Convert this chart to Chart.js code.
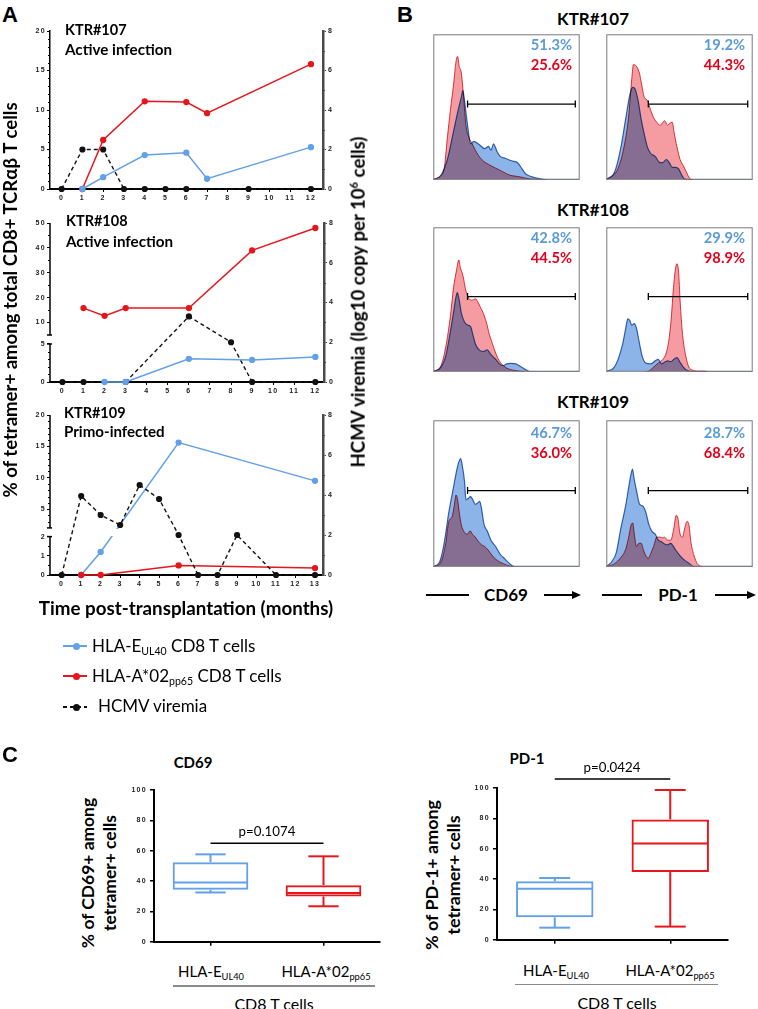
<!DOCTYPE html>
<html>
<head>
<meta charset="utf-8">
<title>Tetramer+ CD8 T cells, HCMV viremia, CD69 and PD-1</title>
<script src="https://cdn.jsdelivr.net/npm/chart.js@4.4.1/dist/chart.umd.min.js"></script>
<style>
  body { margin: 0; background: #fff; }
  #page { position: relative; width: 758px; height: 1009px; overflow: hidden; background: #fff;
          font-family: Lato, "Liberation Sans", sans-serif; color: #000; }
  .abs { position: absolute; white-space: nowrap; line-height: 1; }
  .b { font-weight: bold; }
  .ctr { transform: translateX(-50%); }
  .rot { transform: translate(-50%, -50%) rotate(-90deg); text-align: center; }
  .letter { font: bold 22px "Liberation Sans", Arial, sans-serif; }
  sub { font-size: 0.62em; vertical-align: -0.3em; line-height: 0; }
  sup { font-size: 0.6em; vertical-align: 0.65em; line-height: 0; }
  .blue { color: #5b9bd5; }
  .red { color: #e3001b; }
</style>
</head>
<body>
<div id="page">
  <div id="charts"></div>

  <!-- panel A text -->
  <div class="abs letter" style="left:2px;top:2px">A</div>
  <div class="abs b" style="left:65px;top:22.5px;font-size:14.5px">KTR#107</div>
  <div class="abs b" style="left:65px;top:41.5px;font-size:14.5px" data-fit="107">Active infection</div>
  <div class="abs b" style="left:66px;top:214px;font-size:14.5px">KTR#108</div>
  <div class="abs b" style="left:66px;top:233.5px;font-size:14.5px" data-fit="107">Active infection</div>
  <div class="abs b" style="left:64px;top:405.5px;font-size:14.5px">KTR#109</div>
  <div class="abs b" style="left:64px;top:424px;font-size:14.5px" data-fit="101">Primo-infected</div>
  <div class="abs b rot" style="left:10px;top:300px;font-size:17px" data-fit="395">% of tetramer+ among total CD8+ TCRαβ T cells</div>
  <div class="abs b rot" style="left:358px;top:302px;font-size:17px" data-fit="331">HCMV viremia (log10 copy per 10<sup>6</sup> cells)</div>
  <div class="abs b ctr" style="left:186px;top:598.5px;font-size:18px" data-fit="294">Time post-transplantation (months)</div>

  <!-- legend -->
  <div class="abs" style="left:63px;top:645px;width:24px;height:2px;background:#62a0e8"></div>
  <div class="abs" style="left:72.5px;top:642.5px;width:7px;height:7px;border-radius:50%;background:#62a0e8"></div>
  <div class="abs" style="left:92px;top:636.5px;font-size:17px">HLA-E<sub>UL40</sub> CD8 T cells</div>
  <div class="abs" style="left:63px;top:675px;width:24px;height:2px;background:#e5161c"></div>
  <div class="abs" style="left:72.5px;top:672.5px;width:7px;height:7px;border-radius:50%;background:#e5161c"></div>
  <div class="abs" style="left:92px;top:666.5px;font-size:17px">HLA-A*02<sub>pp65</sub> CD8 T cells</div>
  <div class="abs" style="left:63px;top:706px;width:24px;height:2px;background:repeating-linear-gradient(90deg,#111 0 4px,transparent 4px 7px)"></div>
  <div class="abs" style="left:72.5px;top:703.5px;width:7px;height:7px;border-radius:50%;background:#111"></div>
  <div class="abs" style="left:98px;top:697px;font-size:17px">HCMV viremia</div>

  <!-- panel B text -->
  <div class="abs letter" style="left:397px;top:2px">B</div>
  <div class="abs b ctr" style="left:593px;top:10.5px;font-size:16px" data-fit="72">KTR#107</div>
  <div class="abs b ctr" style="left:593px;top:201.5px;font-size:16px" data-fit="72">KTR#108</div>
  <div class="abs b ctr" style="left:593px;top:394px;font-size:16px" data-fit="72">KTR#109</div>

  <div class="abs b blue" style="right:186px;top:37px;font-size:14px" data-fit="41">51.3%</div>
  <div class="abs b red"  style="right:186px;top:57px;font-size:14px" data-fit="41">25.6%</div>
  <div class="abs b blue" style="right:13px;top:37px;font-size:14px" data-fit="41">19.2%</div>
  <div class="abs b red"  style="right:13px;top:57px;font-size:14px" data-fit="41">44.3%</div>
  <div class="abs b blue" style="right:186px;top:230px;font-size:14px" data-fit="41">42.8%</div>
  <div class="abs b red"  style="right:186px;top:250px;font-size:14px" data-fit="41">44.5%</div>
  <div class="abs b blue" style="right:13px;top:230px;font-size:14px" data-fit="41">29.9%</div>
  <div class="abs b red"  style="right:13px;top:250px;font-size:14px" data-fit="41">98.9%</div>
  <div class="abs b blue" style="right:186px;top:425px;font-size:14px" data-fit="41">46.7%</div>
  <div class="abs b red"  style="right:186px;top:445px;font-size:14px" data-fit="41">36.0%</div>
  <div class="abs b blue" style="right:13px;top:425px;font-size:14px" data-fit="41">28.7%</div>
  <div class="abs b red"  style="right:13px;top:445px;font-size:14px" data-fit="41">68.4%</div>

  <div class="abs" style="left:426px;top:594px;width:43px;height:1.5px;background:#000"></div>
  <div class="abs b ctr" style="left:506px;top:586px;font-size:17px">CD69</div>
  <div class="abs" style="left:544px;top:594px;width:30px;height:1.5px;background:#000"></div>
  <div class="abs" style="left:572px;top:590.7px;border-left:9px solid #000;border-top:4px solid transparent;border-bottom:4px solid transparent"></div>
  <div class="abs" style="left:602px;top:594px;width:40px;height:1.5px;background:#000"></div>
  <div class="abs b ctr" style="left:678px;top:586px;font-size:17px">PD-1</div>
  <div class="abs" style="left:715px;top:594px;width:34px;height:1.5px;background:#000"></div>
  <div class="abs" style="left:747px;top:590.7px;border-left:9px solid #000;border-top:4px solid transparent;border-bottom:4px solid transparent"></div>

  <!-- panel C text -->
  <div class="abs letter" style="left:2px;top:742px">C</div>
  <div class="abs b ctr" style="left:193px;top:754.5px;font-size:15px">CD69</div>
  <div class="abs b ctr" style="left:527px;top:750.5px;font-size:15px">PD-1</div>
  <div class="abs b rot" style="left:99px;top:873px;font-size:16.5px;line-height:22px" data-fit="150">% of CD69+ among<br>tetramer+ cells</div>
  <div class="abs b rot" style="left:442px;top:875px;font-size:16.5px;line-height:22px" data-fit="150">% of PD-1+ among<br>tetramer+ cells</div>
  <div class="abs ctr" style="left:267px;top:825px;font-size:14px" data-fit="57">p=0.1074</div>
  <div class="abs ctr" style="left:612px;top:761px;font-size:14px" data-fit="57">p=0.0424</div>

  <div class="abs ctr" style="left:211px;top:963.5px;font-size:15px">HLA-E<sub>UL40</sub></div>
  <div class="abs ctr" style="left:326px;top:963.5px;font-size:15px">HLA-A*02<sub>pp65</sub></div>
  <div class="abs" style="left:173px;top:985px;width:202px;height:1.5px;background:#8a8a8a"></div>
  <div class="abs ctr" style="left:274px;top:995.5px;font-size:16px">CD8 T cells</div>

  <div class="abs ctr" style="left:556px;top:962.5px;font-size:15px">HLA-E<sub>UL40</sub></div>
  <div class="abs ctr" style="left:670px;top:962.5px;font-size:15px">HLA-A*02<sub>pp65</sub></div>
  <div class="abs" style="left:515px;top:983.5px;width:203px;height:1.5px;background:#8a8a8a"></div>
  <div class="abs ctr" style="left:617px;top:995px;font-size:16px">CD8 T cells</div>
</div>

<script>
// ---------- Panel A: tetramer+ frequencies (left axis) and viremia (right axis) ----------
const viremiaTicks = [0, 2, 4, 6, 8];
const viremiaMinor = [1, 3, 5, 7];

const ticks107x = [0, 1, 2, 3, 4, 5, 6, 7, 8, 9, 10, 11, 12];
const ticks107y = [0, 5, 10, 15, 20];
const minor107y = [1, 2, 3, 4, 6, 7, 8, 9, 11, 12, 13, 14, 16, 17, 18, 19];
const months107 = [1, 2, 4, 6, 7, 12];
const hlaE107 = [0, 1.5, 4.3, 4.6, 1.3, 5.3];
const hlaA107 = [0, 6.2, 11.1, 11.0, 9.6, 15.8];
const virMonths107 = [0, 1, 2, 3, 4, 5, 6, 9, 12];
const viremia107 = [0, 2, 2, 0, 0, 0, 0, 0, 0];

const ticks108x = [0, 1, 2, 3, 4, 5, 6, 7, 8, 9, 10, 11, 12];
const ticks108y = [0, 5, 10, 20, 30, 40, 50];
const minor108y = [1, 2, 3, 4, 15, 25, 35, 45];
const monthsE108 = [2, 3, 6, 9, 12];
const hlaE108 = [0, 0, 3.05, 2.9, 3.3];
const monthsA108 = [1, 2, 3, 6, 9, 12];
const hlaA108 = [15.8, 12.7, 15.8, 15.8, 39, 48];
const virMonths108 = [0, 1, 3, 6, 8, 9, 12];
const viremia108 = [0, 0, 0, 3.3, 2.0, 0, 0];

const ticks109x = [0, 1, 2, 3, 4, 5, 6, 7, 8, 9, 10, 11, 12, 13];
const ticks109y = [0, 1, 2, 5, 10, 15, 20];
const minor109y = [0.5, 1.5, 3, 4, 6, 7, 8, 9, 11, 12, 13, 14, 16, 17, 18, 19];
const months109 = [1, 2, 6, 13];
const hlaE109 = [0, 1.2, 15.6, 9.5];
const hlaA109 = [0, 0, 0.5, 0.36];
const virMonths109 = [0, 1, 2, 3, 4, 5, 6, 7, 8, 9, 11, 13];
const viremia109 = [0, 3.95, 3.0, 2.5, 4.5, 3.8, 2.0, 0, 0, 2.0, 0, 0];

// ---------- Panel B: histograms, [fluorescence position %, count % of frame] ----------
const cd69_107_blue = [[0,0],[1.1,0.4],[5.3,3.2],[9.6,13.9],[13.8,33.1],[17,48.1],[19.1,56.6],[20.2,61.3],[21.3,54.5],[23.4,37.4],[25.5,24.6],[27.7,26.3],[30.9,24.6],[35.1,21.4],[37.7,22.9],[39.4,20.3],[41.1,24.6],[43.6,19.2],[45.7,16],[48.3,15],[51.1,13.9],[54.3,12.8],[57.4,11.8],[60.6,7.5],[62.8,4.3],[67,2.1],[73.4,0.6],[77.7,0],[100,0]];
const cd69_107_red = [[0,0],[0.6,0.4],[4.3,2.1],[7.4,7.5],[9.6,28.8],[11.7,48.1],[13.8,65.2],[15.5,81.2],[16.6,84.8],[17.7,78],[19.1,73.7],[20.2,63],[22.3,37.4],[24.5,28.8],[26.6,24.6],[28.7,20.3],[33,13.9],[39.4,9.6],[45.7,6.4],[52.1,3.2],[58.5,2.1],[67,0.4],[77.7,0]];
const pd1_107_blue = [[0,0],[0.4,0.4],[5.7,5.3],[10,22.4],[13.2,41.7],[16.4,59.8],[18.1,63.5],[19.6,62.6],[21.7,54.5],[23.8,41.7],[26,31],[28.1,22.4],[30.2,18.2],[33.4,16],[36.6,11.8],[38.7,11.8],[40.9,13.9],[43,11.8],[45.1,8.5],[47.2,8.5],[49.4,7.5],[51.5,3.2],[53.6,0.4],[56.8,0],[100,0]];
const pd1_107_red = [[0,0],[0.4,0.4],[3.6,2.1],[7.9,7.5],[12.1,22.4],[15.3,43.8],[17.4,69.4],[18.5,79.1],[20.6,78],[22.8,72.6],[23.8,67.3],[26,56.6],[28.1,54.5],[30.2,48.1],[32.3,42.7],[34.5,39.5],[36.6,37.4],[38.7,39.5],[39.8,40.6],[41.9,37.4],[43,38.5],[45.1,39.5],[46.2,33.1],[48.3,22.4],[50.4,13.9],[52.6,9.6],[54.7,5.3],[56.8,1.1],[58.9,0]];

const cd69_108_blue = [[0,0],[1.1,0.4],[5.3,3.2],[8.5,10.8],[11.7,28],[13.8,40.9],[15.5,51.6],[16.4,54.8],[17.7,49.5],[19.1,40.9],[21.3,34.4],[23.4,32.3],[25.5,31.2],[27,25.8],[28.7,19.4],[31.3,15.1],[34,14],[36.8,15.1],[39.4,11.8],[42.6,8.6],[45.7,4.9],[47.9,4.3],[50,5.4],[53.2,5.8],[56.4,5.4],[58.5,4.3],[61.7,2.2],[64.9,0.4],[66,0],[100,0]];
const cd69_108_red = [[0,0],[0.6,0.4],[5.3,4.3],[8.5,17.2],[11.7,38.7],[13.8,58.1],[16,71],[17.4,77.4],[18.5,72],[20.2,66.7],[22.3,55.9],[24.5,50.5],[26.6,49.5],[28.7,50.5],[30.4,48.4],[31.9,45.2],[34,40.9],[36.2,34.4],[38.3,25.8],[40.4,19.4],[42.6,12.9],[45.7,6.5],[50,2.6],[54.3,1.1],[62.8,0]];
const pd1_108_blue = [[0,0],[0.4,0.4],[4.7,2.2],[7.9,8.2],[11.1,18.9],[13.2,29.7],[14.7,36.6],[16,35.5],[17.4,32.3],[19.1,33.3],[20.6,30.1],[22.3,21.5],[24.5,10.8],[27,6],[30.2,5.4],[33.4,7.5],[35.5,8.6],[37.7,5.4],[39.8,6.5],[41.9,7.5],[44,6.9],[46.2,8.6],[48.3,9.7],[50.4,6.5],[52.6,3.2],[54.7,1.1],[56.8,0.4],[58,0],[100,0]];
const pd1_108_red = [[27,0],[29.1,0.4],[32.3,3.2],[35.5,6],[38.7,8.6],[40.9,12.9],[43,23.7],[44.5,38.7],[45.7,55.9],[47.2,71],[48.3,74.8],[49.4,68.8],[50.4,49.5],[52.1,25.8],[54.3,10.8],[56.4,3.2],[58.9,1.1],[63.2,0.4],[67.4,0.4],[69,0]];

const cd69_109_blue = [[0,0],[0.6,0.4],[4.3,3.2],[7.4,16],[10.6,37.2],[13.8,54.3],[16,66],[17.7,72.3],[18.7,73.8],[19.8,69.1],[21.3,58.5],[22.3,45.7],[24,46.8],[25.5,47.9],[27,45.7],[28.7,42.6],[30.4,43.6],[31.7,44.7],[33,39.4],[34.7,28.7],[36.8,24.5],[39.4,18.1],[42.6,13.8],[45.7,8.5],[48.9,5.3],[52.1,2.1],[54.3,0.4],[56.4,0],[100,0]];
const cd69_109_red = [[0,0],[1.1,0.4],[5.3,3.2],[8.5,16],[10.6,30.9],[12.8,34],[14.3,41.5],[15.5,48.9],[16.6,45.7],[17.7,37.2],[19.1,28.7],[21.3,23.4],[23.4,22.3],[25.1,24.5],[26.6,22.3],[28.7,20.2],[30.9,17],[33,14.9],[35.1,13.8],[37.2,11.7],[40.4,7.4],[43.6,4.3],[47.9,2.1],[52.1,0.4],[55.3,0]];
const pd1_109_blue = [[0,0],[0.4,0.4],[3.6,3.2],[6.8,9.6],[10,26.6],[13.2,41.5],[15.3,54.3],[16.8,62.8],[17.9,66.6],[18.9,60.6],[20.6,52.1],[22.8,42.6],[24.9,41.5],[27,37.2],[29.1,28.7],[31.3,24],[33.4,22.3],[35.5,18.1],[37.7,17],[39.8,15.5],[41.9,14.9],[44,16],[45.1,14.9],[47.2,11.7],[50.4,7.4],[53.6,4.3],[56.8,2.1],[58.9,0.4],[61.1,0],[100,0]];
const pd1_109_red = [[0,0],[1.5,0.4],[5.7,2.1],[10,6.4],[13.2,11.7],[15.3,20.2],[17,28.7],[18.1,29.8],[19.1,22.3],[20.6,13.8],[22.3,16],[23.8,16],[25.3,11.7],[27,7.4],[28.7,5.7],[30.2,8.5],[32.3,13.8],[34.5,20.2],[36.6,20.2],[38.7,19.6],[39.8,20.2],[41.9,18.1],[44,18.1],[46.2,26.6],[47.7,35.1],[48.9,33],[50.4,22.3],[52.1,20.2],[53.6,26.6],[55.1,30.9],[56.4,28.7],[57.9,16],[60,7.4],[62.1,2.1],[64.3,0.4],[65.3,0]];

// gates: [start, end] on the fluorescence axis, height of the bar
const gateCD69 = [23.4, 97];
const gatePD1 = [28.7, 96.6];
const gateLevel = 52;

// ---------- Panel C: box plots ----------
const boxGroups = ['HLA-E UL40', 'HLA-A*02 pp65'];
const boxTicks = [0, 20, 40, 60, 80, 100];
const cd69Min = [32.5, 23.4], cd69Q1 = [34.3, 29.9], cd69Med = [39.1, 32.1], cd69Q3 = [52.4, 37.3], cd69Max = [57.6, 56.3];
const pd1Min = [8.0, 8.7], pd1Q1 = [14.8, 44.6], pd1Med = [33.7, 63.5], pd1Q3 = [38.5, 79.3], pd1Max = [40.7, 98.7];
const cd69Sig = 65, pd1Sig = 106;

const BLUE = '#62a0e8', RED = '#e5161c', BLACK = '#111';
const boxColors = [BLUE, RED];
const tickFont = {family: '"Liberation Sans", Arial, sans-serif', size: 7, weight: 'bold'};

// stretch text to the width it has in the figure (fonts differ from the original)
document.querySelectorAll('[data-fit]').forEach(el => {
  const fs = parseFloat(getComputedStyle(el).fontSize);
  el.style.fontSize = (fs * (+el.dataset.fit) / el.offsetWidth).toFixed(2) + 'px';
});

Chart.defaults.animation = false;
Chart.defaults.events = [];
Chart.defaults.maintainAspectRatio = false;
Chart.defaults.plugins.legend.display = false;
Chart.defaults.plugins.tooltip.enabled = false;

// Prism-like spaced tick labels
Chart.register({id: 'spaced', beforeDraw(chart) { chart.ctx.letterSpacing = '1.3px'; }});

// linear scale with a break: lower part 0..at, upper part at..max
class BrokenScale extends Chart.LinearScale {
  getPixelForValue(value) {
    if (value === null || value === undefined || isNaN(value)) return NaN;
    const b = this.options.brk;
    const lowH = (this.bottom - this.top) * b.lowFrac;
    const lowTop = this.bottom - lowH;
    if (value <= b.at) return this.bottom - (value - this.min) / (b.at - this.min) * lowH;
    const highBottom = lowTop - b.gap;
    return highBottom - (value - b.at) / (this.max - b.at) * (highBottom - this.top);
  }
}
BrokenScale.id = 'broken';
BrokenScale.defaults = Chart.LinearScale.defaults;
Chart.register(BrokenScale);

function mount(l, t, w, h) {
  const d = document.createElement('div');
  d.style.cssText = `position:absolute;left:${l}px;top:${t}px;width:${w}px;height:${h}px;`;
  const c = document.createElement('canvas');
  d.appendChild(c);
  document.getElementById('charts').appendChild(d);
  return c;
}

function seg(ctx, x0, y0, x1, y1) {
  ctx.beginPath(); ctx.moveTo(x0, y0); ctx.lineTo(x1, y1); ctx.stroke();
}

const xy = (xs, ys) => xs.map((x, i) => ({x, y: ys[i]}));
const fixTicks = list => s => { s.ticks = list.map(v => ({value: v})); };

function series(xs, ys, color, extra) {
  return Object.assign({
    data: xy(xs, ys), borderColor: color, backgroundColor: color,
    pointBackgroundColor: color, pointBorderColor: color,
    borderWidth: 1.5, pointRadius: 2.4, clip: false, yAxisID: 'y'
  }, extra);
}

function axisDeco(p) {
  return {
    id: 'axisDeco',
    afterDatasetDraw(chart, args) {
      if (p.gapDataset !== args.index) return;
      const y = chart.scales.y, b = y.options.brk, a = chart.chartArea;
      const lowTop = y.getPixelForValue(b.at);
      chart.ctx.clearRect(a.left + 2, lowTop - b.gap + 1, a.right - a.left - 4, b.gap - 2);
    },
    afterDraw(chart) {
      const ctx = chart.ctx, y = chart.scales.y, y2 = chart.scales.y2;
      ctx.save();
      ctx.lineWidth = 1;
      ctx.strokeStyle = '#000';
      p.yMinor.forEach(v => { const q = Math.round(y.getPixelForValue(v)) + 0.5; seg(ctx, y.right - 2, q, y.right, q); });
      ctx.strokeStyle = '#444';
      viremiaMinor.forEach(v => { const q = Math.round(y2.getPixelForValue(v)) + 0.5; seg(ctx, y2.left, q, y2.left + 2, q); });
      if (p.brk) {
        const x = y.right, lowTop = y.getPixelForValue(p.brk.at), highBottom = lowTop - p.brk.gap;
        ctx.strokeStyle = '#000';
        ctx.lineWidth = 1.5;
        seg(ctx, x, y.top, x, highBottom);
        seg(ctx, x, lowTop, x, y.bottom);
        seg(ctx, x - 3, highBottom, x + 2, highBottom);
        seg(ctx, x - 3, lowTop, x + 2, lowTop);
      }
      ctx.restore();
    }
  };
}

function timeChart(p) {
  const padT = 10, leftW = 30, rightW = 32, botH = 22, a = p.area;
  const cv = mount(a.l - leftW, a.t - padT, a.r - a.l + leftW + rightW, a.b - a.t + padT + botH);
  const y = {
    type: p.brk ? 'broken' : 'linear', position: 'left', min: 0, max: p.yMax,
    afterBuildTicks: fixTicks(p.yTicks), afterFit: s => { s.width = leftW; },
    grid: {drawOnChartArea: false, tickLength: 3, color: '#000', lineWidth: 1},
    border: {display: !p.brk, color: '#000', width: 1.5},
    ticks: {font: tickFont, color: '#222', padding: 1, autoSkip: false}
  };
  if (p.brk) y.brk = p.brk;
  new Chart(cv, {
    type: 'line',
    data: {datasets: p.datasets},
    options: {
      layout: {padding: {top: padT}},
      scales: {
        x: {
          type: 'linear', min: p.xMin, max: p.xMax,
          afterBuildTicks: fixTicks(p.xTicks), afterFit: s => { s.height = botH; },
          grid: {drawOnChartArea: false, tickLength: 3, color: '#000'},
          border: {color: '#000', width: 2},
          ticks: {font: tickFont, color: '#222', padding: 2, autoSkip: false, maxRotation: 0}
        },
        y,
        y2: {
          type: 'linear', position: 'right', min: 0, max: 8,
          afterBuildTicks: fixTicks(viremiaTicks), afterFit: s => { s.width = rightW; },
          grid: {drawOnChartArea: false, tickLength: 3, color: '#444'},
          border: {color: '#4a4a4a', width: 2.5},
          ticks: {font: tickFont, color: '#222', padding: 2, autoSkip: false}
        }
      }
    },
    plugins: [axisDeco(p)]
  });
}

const dashed = {borderDash: [4, 3], yAxisID: 'y2', borderWidth: 1.4};

timeChart({
  area: {l: 50, t: 31, r: 323, b: 189}, xMin: -0.56, xMax: 12.58, xTicks: ticks107x,
  yMax: 20, yTicks: ticks107y, yMinor: minor107y,
  datasets: [
    series(months107, hlaE107, BLUE),
    series(months107, hlaA107, RED),
    series(virMonths107, viremia107, BLACK, dashed)
  ]
});

timeChart({
  area: {l: 50, t: 223, r: 324, b: 382}, xMin: -0.59, xMax: 12.41, xTicks: ticks108x,
  yMax: 50, yTicks: ticks108y, yMinor: minor108y, brk: {at: 5, lowFrac: 0.239, gap: 9},
  datasets: [
    series(monthsE108, hlaE108, BLUE),
    series(monthsA108, hlaA108, RED),
    series(virMonths108, viremia108, BLACK, dashed)
  ]
});

timeChart({
  area: {l: 50, t: 415, r: 323, b: 575}, xMin: -0.6, xMax: 13.41, xTicks: ticks109x,
  yMax: 20, yTicks: ticks109y, yMinor: minor109y, brk: {at: 2, lowFrac: 0.24, gap: 8.7},
  gapDataset: 0,
  datasets: [
    series(months109, hlaE109, BLUE, {order: 3}),
    series(months109, hlaA109, RED, {order: 2}),
    series(virMonths109, viremia109, BLACK, Object.assign({order: 1}, dashed))
  ]
});

// ---------- Panel B charts ----------
const multiply = {
  id: 'multiply',
  beforeDatasetsDraw(chart) { chart.ctx.save(); chart.ctx.globalCompositeOperation = 'multiply'; },
  afterDatasetsDraw(chart) { chart.ctx.restore(); }
};
const frame = {
  id: 'frame',
  afterDraw(chart) {
    const {ctx, chartArea: a} = chart;
    ctx.save();
    ctx.strokeStyle = '#7a7a7a';
    ctx.lineWidth = 1;
    ctx.strokeRect(a.left + 0.5, a.top + 0.5, a.right - a.left - 1, a.bottom - a.top - 1);
    ctx.restore();
  }
};

function histChart(l, t, w, h, blue, red, gate) {
  const cv = mount(l, t, w, h);
  const pts = arr => arr.map(([x, y]) => ({x, y}));
  new Chart(cv, {
    type: 'line',
    data: {datasets: [
      {data: [{x: gate[0], y: gateLevel}, {x: gate[1], y: gateLevel}], borderColor: '#000', borderWidth: 1.3,
       pointStyle: 'line', rotation: 90, pointRadius: 3.5, pointBorderWidth: 1.3, pointBorderColor: '#000', fill: false},
      {data: pts(red), borderColor: '#e0393e', backgroundColor: '#f49ca2', fill: 'origin', borderWidth: 1,
       pointRadius: 0, cubicInterpolationMode: 'monotone'},
      {data: pts(blue), borderColor: '#3a6db5', backgroundColor: '#8cb4e8', fill: 'origin', borderWidth: 1.2,
       pointRadius: 0, cubicInterpolationMode: 'monotone'}
    ]},
    options: {
      layout: {padding: 0},
      scales: {
        x: {type: 'linear', min: 0, max: 100, display: false},
        y: {type: 'linear', min: 0, max: 100, display: false}
      }
    },
    plugins: [multiply, frame]
  });
}

histChart(428, 29, 157, 156, cd69_107_blue, cd69_107_red, gateCD69);
histChart(601, 29, 157, 156, pd1_107_blue, pd1_107_red, gatePD1);
histChart(428, 222, 157, 155, cd69_108_blue, cd69_108_red, gateCD69);
histChart(601, 222, 157, 155, pd1_108_blue, pd1_108_red, gatePD1);
histChart(428, 415, 157, 157, cd69_109_blue, cd69_109_red, gateCD69);
histChart(601, 415, 157, 157, pd1_109_blue, pd1_109_red, gatePD1);

// ---------- Panel C charts ----------
function whiskers(p) {
  return {
    id: 'whiskers',
    afterDatasetsDraw(chart) {
      const ctx = chart.ctx, ys = chart.scales.y, bars = chart.getDatasetMeta(0).data;
      const py = v => ys.getPixelForValue(v);
      ctx.save();
      ctx.lineWidth = 2;
      bars.forEach((bar, i) => {
        const x = bar.x, hw = bar.width / 2 - 1, cw = bar.width * 0.2;
        ctx.strokeStyle = boxColors[i];
        seg(ctx, x - hw, py(p.med[i]), x + hw, py(p.med[i]));
        seg(ctx, x, py(p.q3[i]), x, py(p.max[i]));
        seg(ctx, x - cw, py(p.max[i]), x + cw, py(p.max[i]));
        seg(ctx, x, py(p.q1[i]), x, py(p.min[i]));
        seg(ctx, x - cw, py(p.min[i]), x + cw, py(p.min[i]));
      });
      ctx.strokeStyle = '#000';
      ctx.lineWidth = 1.5;
      seg(ctx, bars[0].x, py(p.sig), bars[1].x, py(p.sig));
      ctx.restore();
    }
  };
}

function boxChart(p) {
  const yW = 30, xH = 6, padR = 3, a = p.area;
  const cv = mount(a.l - yW, a.t - p.padT, a.r - a.l + yW + padR, a.b - a.t + p.padT + xH);
  new Chart(cv, {
    type: 'bar',
    data: {labels: boxGroups, datasets: [{
      data: p.q1.map((v, i) => [v, p.q3[i]]), borderColor: boxColors, backgroundColor: 'rgba(0,0,0,0)',
      borderWidth: 2, borderSkipped: false, barPercentage: 0.67, categoryPercentage: 1
    }]},
    options: {
      layout: {padding: {top: p.padT, right: padR}},
      scales: {
        x: {
          grid: {drawOnChartArea: false, offset: false, tickLength: 4, color: '#000', lineWidth: 1.5},
          border: {color: '#000', width: 2}, ticks: {display: false}, afterFit: s => { s.height = xH; }
        },
        y: {
          min: 0, max: 100, afterBuildTicks: fixTicks(boxTicks), afterFit: s => { s.width = yW; },
          grid: {drawOnChartArea: false, tickLength: 4, color: '#000', lineWidth: 1.5},
          border: {color: '#000', width: 2},
          ticks: {font: tickFont, color: '#222', padding: 3}
        }
      }
    },
    plugins: [whiskers(p)]
  });
}

boxChart({area: {l: 154, t: 790, r: 380, b: 943}, padT: 10,
  min: cd69Min, q1: cd69Q1, med: cd69Med, q3: cd69Q3, max: cd69Max, sig: cd69Sig});
boxChart({area: {l: 497, t: 788, r: 728, b: 941}, padT: 16,
  min: pd1Min, q1: pd1Q1, med: pd1Med, q3: pd1Q3, max: pd1Max, sig: pd1Sig});
</script>
</body>
</html>
